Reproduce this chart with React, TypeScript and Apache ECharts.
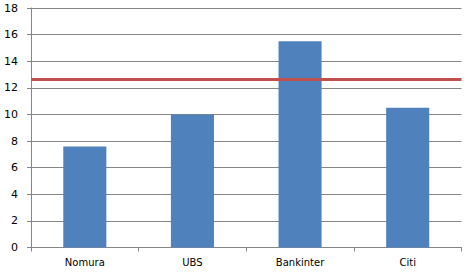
import React, { useEffect, useRef } from "react";
import * as echarts from "echarts";

const categories = ["Nomura", "UBS", "Bankinter", "Citi"];
const values = [7.6, 10.0, 15.5, 10.5];
const targetLine = 12.65;
const yMin = 0;
const yMax = 18;
const yInterval = 2;

export default function App() {
  const ref = useRef<HTMLDivElement>(null);
  useEffect(() => {
    document.body.style.margin = "0";
    const chart = echarts.init(ref.current!, null, { renderer: "svg" });
    const font = "DejaVu Sans";
    chart.setOption({
      animation: false,
      backgroundColor: "#ffffff",
      grid: { left: 31, right: 10.5, top: 8, bottom: 28.5, containLabel: false },
      xAxis: {
        type: "category",
        data: categories,
        axisLine: { show: true, lineStyle: { color: "#868686", width: 1 } },
        axisTick: { show: true, alignWithLabel: false, length: 4, lineStyle: { color: "#868686" } },
        axisLabel: { color: "#000000", fontFamily: font, fontSize: 10, margin: 10 },
        splitLine: { show: false },
      },
      yAxis: {
        type: "value",
        min: yMin,
        max: yMax,
        interval: yInterval,
        axisLine: { show: true, lineStyle: { color: "#868686", width: 1 } },
        axisTick: { show: true, length: 4, lineStyle: { color: "#868686" } },
        axisLabel: { color: "#000000", fontFamily: font, fontSize: 11, margin: 13 },
        splitLine: { show: true, lineStyle: { color: "#868686", width: 1 } },
      },
      series: [
        {
          type: "bar",
          data: values,
          barWidth: "40%",
          itemStyle: { color: "#4F81BD" },
          markLine: {
            silent: true,
            symbol: ["none", "none"],
            label: { show: false },
            lineStyle: { color: "#C0504D", width: 3, type: "solid" },
            data: [{ yAxis: targetLine }],
          },
        },
      ],
    });
    return () => chart.dispose();
  }, []);
  return <div ref={ref} style={{ width: 472, height: 276 }} />;
}
